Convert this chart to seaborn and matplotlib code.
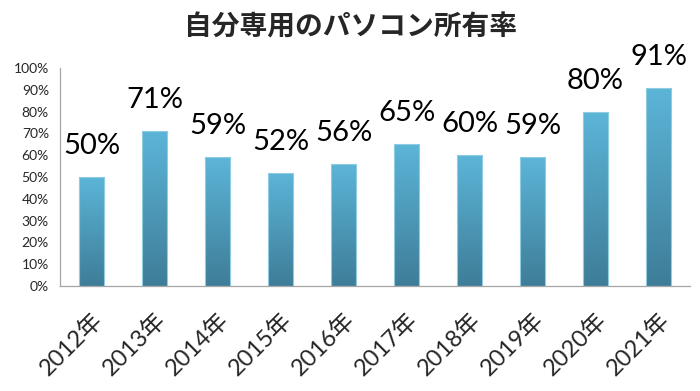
import numpy as np
import pandas as pd
import matplotlib
matplotlib.use("Agg")
import matplotlib.pyplot as plt
import seaborn as sns
from matplotlib.colors import LinearSegmentedColormap
from matplotlib.ticker import PercentFormatter

years = ["2012年", "2013年", "2014年", "2015年", "2016年",
         "2017年", "2018年", "2019年", "2020年", "2021年"]
rates = [0.50, 0.71, 0.59, 0.52, 0.56, 0.65, 0.60, 0.59, 0.80, 0.91]
labels = ["50%", "71%", "59%", "52%", "56%", "65%", "60%", "59%", "80%", "91%"]
title = "自分専用のパソコン所有率"

sns.set_theme(style="white")
plt.rcParams['font.family'] = ['Lato', 'Noto Sans CJK JP', 'DejaVu Sans']

df = pd.DataFrame({"year": years, "rate": rates})

fig = plt.figure(figsize=(7, 3.91), dpi=100)
ax = fig.add_axes([60/700, 1 - 286/391, 630/700, 218/391])

sns.barplot(data=df, x="year", y="rate", color="#4f9fc0", width=0.41, ax=ax,
            edgecolor="none")

cmap = LinearSegmentedColormap.from_list("g", ["#3e7d98", "#5cb5d8"])
grad = np.linspace(0, 1, 256).reshape(-1, 1)
for p in list(ax.patches):
    x0, y0 = p.get_x(), p.get_y()
    w, h = p.get_width(), p.get_height()
    im = ax.imshow(grad, cmap=cmap, aspect="auto", origin="lower",
                   extent=[x0, x0 + w, y0, y0 + h], zorder=2)
    im.set_clip_path(p)
    p.set_facecolor("none")
    p.set_edgecolor("#8fcbe3")
    p.set_linewidth(0.8)
    p.set_zorder(3)

for i, (v, lab) in enumerate(zip(rates, labels)):
    ax.annotate(lab, (i, v), xytext=(0, 13), textcoords="offset points",
                ha="center", va="bottom", fontsize=21, color="black",
                family=['Lato', 'DejaVu Sans'])

ax.set_xlim(-0.5, 9.5)
ax.set_ylim(0, 1)
ax.set_yticks(np.arange(0, 1.01, 0.1))
ax.yaxis.set_major_formatter(PercentFormatter(1.0, decimals=0))
ax.set_xlabel("")
ax.set_ylabel("")

ax.set_xticks(range(len(years)))
ax.set_xticklabels(years, rotation=45, ha="right", rotation_mode="anchor",
                   fontsize=17, family=['Lato', 'Noto Sans CJK JP'])
ax.set_xticks(np.arange(-0.5, 10, 1), minor=True)
ax.tick_params(axis="x", which="major", length=0, pad=16)
ax.tick_params(axis="x", which="minor", length=7, color="#a6a6a6", width=0.9)
ax.tick_params(axis="y", which="major", length=5, color="#a6a6a6", width=0.9,
               labelsize=10, pad=3)

for s in ["top", "right"]:
    ax.spines[s].set_visible(False)
for s in ["left", "bottom"]:
    ax.spines[s].set_color("#a6a6a6")
    ax.spines[s].set_linewidth(0.9)

fig.text(0.5, 1 - 28/391, title, ha="center", va="center", fontsize=20,
         fontweight="bold", family=['Noto Sans CJK JP'])

fig.savefig("out.png", dpi=100)
